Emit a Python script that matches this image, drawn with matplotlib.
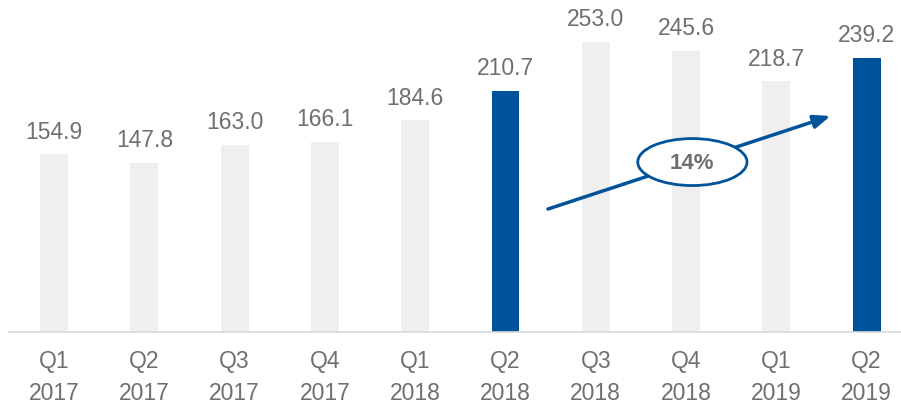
import matplotlib.pyplot as plt
from matplotlib.patches import Ellipse

quarters = ['Q1\n2017', 'Q2\n2017', 'Q3\n2017', 'Q4\n2017', 'Q1\n2018',
            'Q2\n2018', 'Q3\n2018', 'Q4\n2018', 'Q1\n2019', 'Q2\n2019']
values = [154.9, 147.8, 163.0, 166.1, 184.6, 210.7, 253.0, 245.6, 218.7, 239.2]
highlight = [False, False, False, False, False, True, False, False, False, True]
growth = '14%'

gray = '#efefef'
blue = '#00529b'
txt = '#6f6f6f'
plt.rcParams['font.family'] = ['Liberation Sans', 'DejaVu Sans']

fig = plt.figure(figsize=(9.01, 4.06), dpi=100)
ax = fig.add_axes([9/901, 73/406, 891/901, 333/406])

x = list(range(len(values)))
colors = [blue if h else gray for h in highlight]
ax.bar(x, values, width=0.31, color=colors)
for xi, v in zip(x, values):
    ax.annotate(f'{v:.1f}', (xi, v), xytext=(0, 8.5), textcoords='offset points',
                ha='center', va='bottom', fontsize=16.5, color=txt)

ax.set_xlim(-0.5, 9.37)
ax.set_ylim(0, 290.6)
ax.set_xticks(x)
ax.set_xticklabels(quarters, fontsize=16.5, color=txt, linespacing=1.5)
ax.tick_params(axis='x', length=0, pad=12)
ax.set_yticks([])
for s in ['top', 'right', 'left']:
    ax.spines[s].set_visible(False)
ax.spines['bottom'].set_color('#d9d9d9')
ax.spines['bottom'].set_linewidth(1.2)

# growth arrow
ax.annotate('', xy=(8.6, 188.5), xytext=(5.47, 107.3),
            arrowprops=dict(arrowstyle='-|>,head_length=1.0,head_width=0.4',
                            color=blue, lw=2.5, shrinkA=0, shrinkB=0))
ax.add_patch(Ellipse((7.07, 148.3), 1.21, 41, facecolor='white',
                     edgecolor=blue, lw=2, zorder=5))
ax.text(7.07, 148.3, growth, ha='center', va='center', fontsize=16,
        fontweight='bold', color=txt, zorder=6)

fig.savefig('out.png', dpi=100)
